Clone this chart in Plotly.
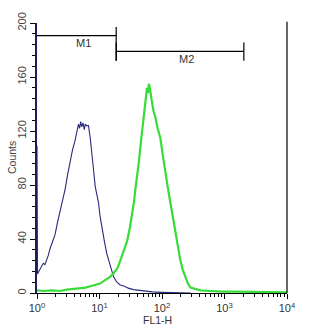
import math
import plotly.graph_objects as go

# Blue histogram (control) - FL1-H channel vs counts
blue_x = [1.0, 1.02, 1.1, 1.18, 1.26, 1.34, 1.43, 1.52, 1.62, 1.78, 1.94, 2.12, 2.34, 2.56,
          2.82, 3.1, 3.39, 3.7, 4.07, 4.3, 4.6, 4.8, 5.0, 5.2, 5.45, 5.7, 5.9, 6.2, 6.66,
          7.1, 7.55, 8.0, 8.53, 9.1, 9.64, 10.2, 10.9, 12.0, 13.1, 14.8, 16.8, 19.0, 21.5,
          25.0, 28.9, 35, 42, 50, 70, 100, 150, 200, 288]
blue_y = [109, 14, 17, 20, 22, 21, 24, 28, 33, 38, 43, 52, 60, 68,
          77, 88, 98, 106, 113, 118, 125, 122, 127, 123, 126, 121, 125, 124, 124,
          115, 105, 92, 79, 73, 67, 57, 48, 38, 29, 20, 12, 8, 6,
          5, 3.6, 2.5, 2, 1.2, 0.8, 0.5, 0.3, 0.2, 0]

# Green histogram (stained)
green_x = [1.0, 1.3, 1.7, 2.34, 3.0, 4.0, 4.9, 6.0, 7.1, 8.5, 10.2, 12.3, 14.8, 17, 19.2,
           21.5, 24.5, 27.5, 30.5, 33.2, 35.5, 37.5, 40, 42.4, 45, 48, 50.5, 52.8, 55,
           57.5, 60, 61.5, 63.4, 65, 67, 69.3, 73, 78.5, 85, 94, 103, 113, 124, 136, 150,
           164, 180, 197, 216, 237, 260, 285, 340, 414, 600, 900, 1500, 2500, 4000, 6500, 10000]
green_y = [2, 1.5, 2, 1.5, 2.5, 3, 3.5, 4, 5, 6, 7, 9.5, 12, 15, 18,
           24, 31, 38, 48, 58, 67, 77, 86, 96, 108, 120, 130, 139, 145,
           152, 148, 155, 153, 149, 147, 141, 135, 130, 122, 115, 102, 89, 78, 67, 55,
           43, 33, 24, 17, 12, 7, 4, 3, 2, 1.5, 1, 1, 0.8, 0.6, 0.5, 0.5]

# Markers
m1_range = [1, 18.5]
m1_level = 190.6
m1_tick = [172, 197]
m2_range = [18.5, 2040]
m2_level = 179
m2_tick = [172, 185.5]
marker_labels = ["M1", "M2"]
marker_label_x = [5.5, 246]
marker_label_y = [185, 173.5]

x_tickvals = [1, 10, 100, 1000, 10000]
x_ticktext = ["10<sup>0</sup>", "10<sup>1</sup>", "10<sup>2</sup>", "10<sup>3</sup>", "10<sup>4</sup>"]
y_tickvals = [0, 40, 80, 120, 160, 200]

fig = go.Figure()
fig.add_trace(go.Scatter(x=blue_x, y=blue_y, mode="lines",
                         line=dict(color="#2a2a7c", width=1.1), showlegend=False))
fig.add_trace(go.Scatter(x=green_x, y=green_y, mode="lines",
                         line=dict(color="#38dc38", width=2.2), showlegend=False))

blk = dict(color="black", width=1.2)
fig.add_trace(go.Scatter(x=m1_range, y=[m1_level, m1_level], mode="lines", line=blk, showlegend=False))
fig.add_trace(go.Scatter(x=[m1_range[1], m1_range[1]], y=m1_tick, mode="lines", line=blk, showlegend=False))
fig.add_trace(go.Scatter(x=m2_range, y=[m2_level, m2_level], mode="lines", line=blk, showlegend=False))
fig.add_trace(go.Scatter(x=[m2_range[0], m2_range[0]], y=m2_tick, mode="lines", line=blk, showlegend=False))
fig.add_trace(go.Scatter(x=[m2_range[1], m2_range[1]], y=m2_tick, mode="lines", line=blk, showlegend=False))

for lab, lx, ly in zip(marker_labels, marker_label_x, marker_label_y):
    fig.add_annotation(x=math.log10(lx), y=ly, xref="x", yref="y", text=lab, showarrow=False,
                       font=dict(family="Liberation Sans, Arial", size=11, color="#333"),
                       xanchor="center", yanchor="middle")

minor_x = [d * 10 ** k for k in range(4) for d in range(2, 10)]

fig.update_xaxes(type="log", range=[0, 4], tickmode="array", tickvals=x_tickvals,
                 ticktext=x_ticktext, ticks="outside", ticklen=5, tickcolor="black",
                 showline=True, linecolor="black", linewidth=1, mirror=False,
                 showgrid=False, zeroline=False,
                 tickfont=dict(family="Liberation Sans, Arial", size=11, color="#333"),
                 minor=dict(tickmode="array", tickvals=minor_x, ticks="outside",
                            ticklen=3, tickcolor="black", showgrid=False))
fig.update_yaxes(range=[0, 200], tickmode="array", tickvals=y_tickvals,
                 ticks="outside", ticklen=5, tickcolor="black", tickangle=-90,
                 showline=True, linecolor="#1c1c5a", linewidth=2,
                 showgrid=False, zeroline=False,
                 tickfont=dict(family="Liberation Sans, Arial", size=11, color="#444"),
                 minor=dict(dtick=8, ticks="outside", ticklen=3, tickcolor="black", showgrid=False))

# right border
fig.add_shape(type="line", xref="paper", yref="paper", x0=1, x1=1, y0=0, y1=1.005,
              line=dict(color="black", width=1.2))

fig.add_annotation(text="FL1-H", xref="paper", yref="paper", x=0.48, y=-0.1,
                   showarrow=False, xanchor="center", yanchor="middle",
                   font=dict(family="Liberation Sans, Arial", size=10.5, color="#333"))
fig.add_annotation(text="Counts", xref="paper", yref="paper", x=-0.1, y=0.5,
                   showarrow=False, xanchor="center", yanchor="middle", textangle=-90,
                   font=dict(family="Liberation Sans, Arial", size=10.5, color="#444"))

fig.update_layout(width=312, height=328, margin=dict(l=37, r=25, t=16, b=35),
                  plot_bgcolor="white", paper_bgcolor="white")

fig.write_html("out.html")
